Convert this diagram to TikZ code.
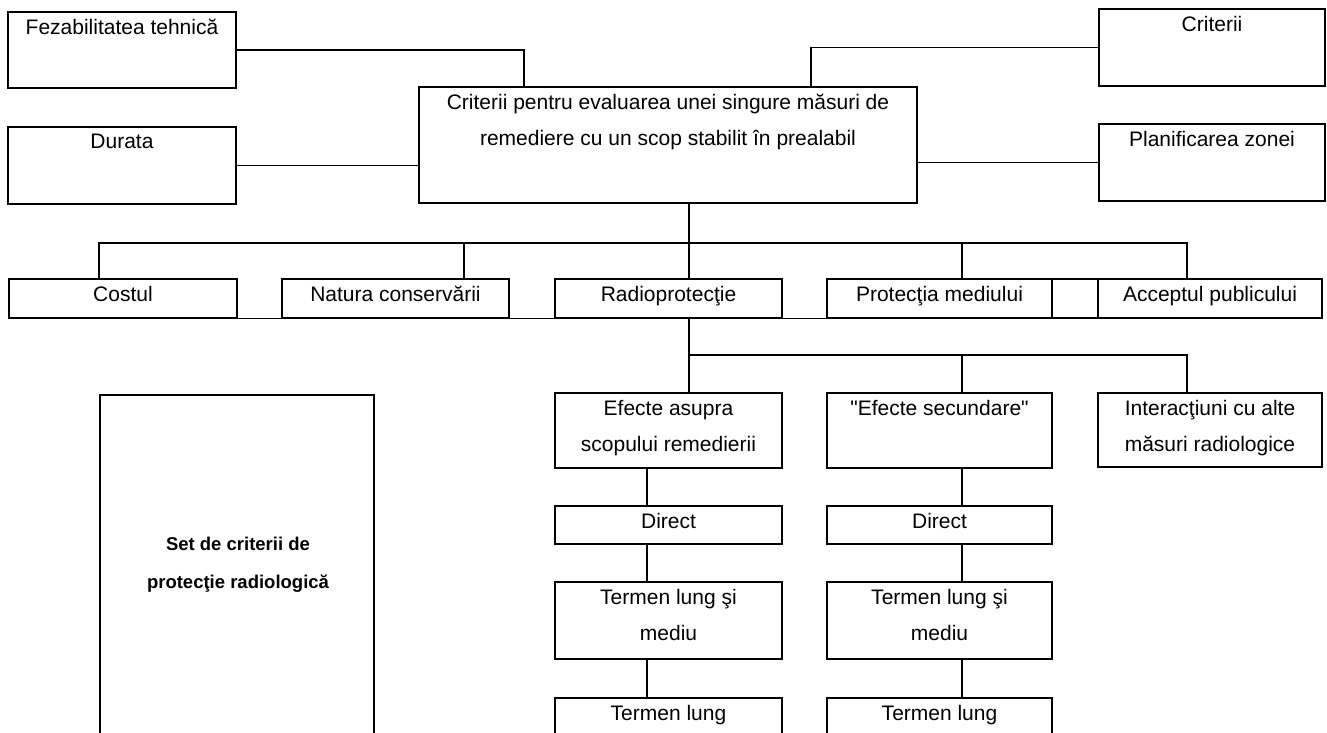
\documentclass[tikz,border=0pt]{standalone}
\usepackage{fontspec}
\setmainfont{Liberation Sans}[Ligatures=TeXOff]
\usetikzlibrary{calc}
\tikzset{
  bx/.style={draw=black, line width=1.3pt, inner sep=0pt, rectangle},
  txt/.style={inner sep=0pt, align=center, font=\fontsize{21}{36}\selectfont},
  settxt/.style={inner sep=0pt, align=center, font=\bfseries\fontsize{18.5}{38}\selectfont},
  conn/.style={draw=black, line width=1.3pt},
}
\newcommand\mkbox[5]{\node[bx, minimum width={#4pt-#2pt}, minimum height={#5pt-#3pt}] (#1) at ({(#2+#4)/2},{(#3+#5)/2}) {};}
\newcommand\mktext[2]{\node[txt, anchor=north] (#1-t) at ([yshift=-7.5pt]#1.north) {#2};}
\begin{document}
\begin{tikzpicture}[x=1pt, y=-1pt]
\useasboundingbox (0,0) rectangle (1327,733);
\fill[white] (0,0) rectangle (1327,733);
\clip (0,0) rectangle (1327,733);
% top level
\mkbox{fez}{8}{12}{236}{88}
\mkbox{dur}{8}{127}{236}{204}
\mkbox{cen}{419}{87}{917}{203}
\mkbox{crit}{1099}{9}{1325}{86}
\mkbox{plan}{1099}{124}{1325}{201}
\mktext{fez}{Fezabilitatea tehnică}
\mktext{dur}{Durata}
\mktext{cen}{Criterii pentru evaluarea unei singure măsuri de\\remediere cu un scop stabilit în prealabil}
\mktext{crit}{Criterii}
\mktext{plan}{Planificarea zonei}
% second level
\mkbox{cost}{9}{279}{237}{318}
\mkbox{nat}{282}{279}{509}{318}
\mkbox{radio}{555}{279}{782}{318}
\mkbox{prot}{827}{279}{1052}{318}
\mkbox{cell}{1052}{279}{1098}{318}
\mkbox{acc}{1098}{279}{1322}{318}
\mktext{cost}{Costul}
\mktext{nat}{Natura conservării}
\mktext{radio}{Radioprotecţie}
\mktext{prot}{Protecţia mediului}
\mktext{acc}{Acceptul publicului}
% third level
\mkbox{efa}{555}{393}{782}{468}
\mkbox{efs}{827}{393}{1052}{468}
\mkbox{inter}{1098}{393}{1322}{467}
\mktext{efa}{Efecte asupra\\scopului remedierii}
\mktext{efs}{"Efecte secundare"}
\mktext{inter}{Interacţiuni cu alte\\măsuri radiologice}
% columns
\mkbox{dira}{555}{506}{782}{544}
\mkbox{dirb}{827}{506}{1052}{544}
\mkbox{tlma}{555}{582}{782}{659}
\mkbox{tlmb}{827}{582}{1052}{659}
\mkbox{tla}{555}{698}{782}{760}
\mkbox{tlb}{827}{698}{1052}{760}
\mktext{dira}{Direct}
\mktext{dirb}{Direct}
\mktext{tlma}{Termen lung şi\\mediu}
\mktext{tlmb}{Termen lung şi\\mediu}
\mktext{tla}{Termen lung}
\mktext{tlb}{Termen lung}
% set box
\mkbox{set}{100}{395}{374}{760}
\node[settxt] (set-t) at (238,565) {Set de criterii de\\protecţie radiologică};
% connectors top
\coordinate (kf) at (524,50);
\draw[conn] (fez.east) -- (kf) -- (kf |- cen.north);
\draw[conn] (dur.east) -- (dur.east -| cen.west);
\coordinate (kc) at (811,47.5);
\draw[conn] (crit.west) -- (kc) -- (kc |- cen.north);
\draw[conn] (plan.west) -- (plan.west -| cen.east);
% bus 1
\coordinate (ta) at (689,243);
\coordinate (taL) at (99,243);
\coordinate (taR) at (1187,243);
\coordinate (tan) at (464,243);
\coordinate (tap) at (962,243);
\draw[conn] (ta |- cen.south) -- (ta |- radio.north);
\draw[conn] (taL |- cost.north) -- (taL) -- (taR) -- (taR |- acc.north);
\draw[conn] (tan) -- (tan |- nat.north);
\draw[conn] (tap) -- (tap |- prot.north);
\draw[conn] (cost.south west) -- (acc.south east);
% bus 2
\coordinate (tb) at (689,355);
\coordinate (tbR) at (1187,355);
\coordinate (tbs) at (962,355);
\draw[conn] (tb |- radio.south) -- (tb |- efa.north);
\draw[conn] (tb) -- (tbR) -- (tbR |- inter.north);
\draw[conn] (tbs) -- (tbs |- efs.north);
% columns
\coordinate (ca) at (647,0);
\coordinate (cb) at (962,0);
\draw[conn] (ca |- efa.south) -- (ca |- dira.north);
\draw[conn] (ca |- dira.south) -- (ca |- tlma.north);
\draw[conn] (ca |- tlma.south) -- (ca |- tla.north);
\draw[conn] (cb |- efs.south) -- (cb |- dirb.north);
\draw[conn] (cb |- dirb.south) -- (cb |- tlmb.north);
\draw[conn] (cb |- tlmb.south) -- (cb |- tlb.north);
\end{tikzpicture}
\end{document}
